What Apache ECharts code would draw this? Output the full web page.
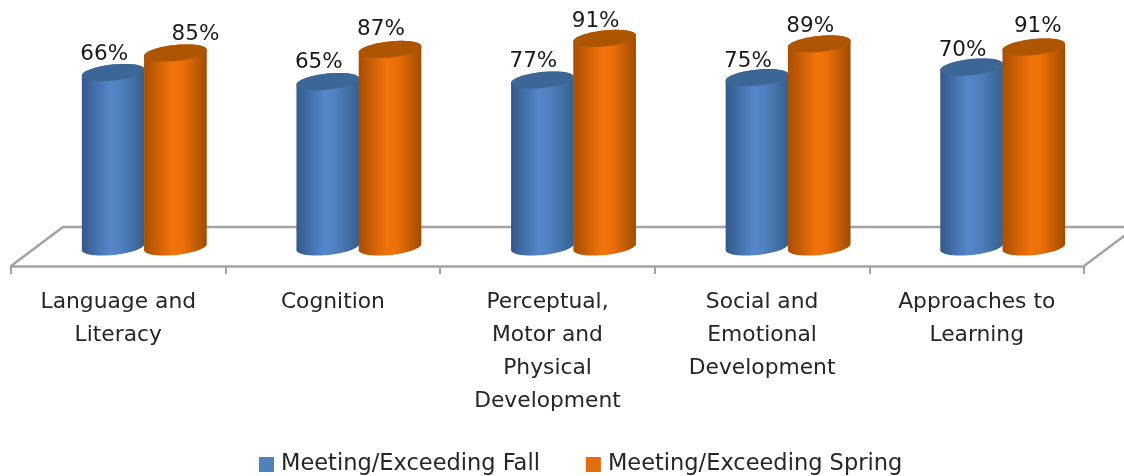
<!DOCTYPE html>
<html><head><meta charset="utf-8">
<style>html,body{margin:0;padding:0;background:#fff}#c{width:1124px;height:476px;filter:blur(0.6px)}</style>
<script src="https://cdn.jsdelivr.net/npm/echarts@6/dist/echarts.min.js"></script></head>
<body><div id="c"></div>
<script>
const categories = ['Language and\nLiteracy','Cognition','Perceptual,\nMotor and\nPhysical\nDevelopment','Social and\nEmotional\nDevelopment','Approaches to\nLearning'];
const seriesNames = ['Meeting/Exceeding Fall','Meeting/Exceeding Spring'];
// Heights as drawn in the picture
const fallHeights = [79.3, 75.2, 75.9, 77, 81.8];
const springHeights = [88.2, 89.8, 94.8, 92.3, 90.9];
// Percentages as printed above the columns
const fallLabels = ['66%','65%','77%','75%','70%'];
const springLabels = ['85%','87%','91%','89%','91%'];

const FONT = '"DejaVu Sans"';
const DEPTH_X = 52, DEPTH_Y = 39;
const RX = 31.5, RY = 8, TILT = -6 * Math.PI / 180;
const labelNudgeX = {fall:[0,0,0,0,0], spring:[29,0,0,0,13]};
const labelNudgeY = {fall:[2,1,1,4,3], spring:[1,0,3,2,-1]};

function ellipsePoint(cx, cy, t) {
  const x = RX * Math.cos(t), y = RY * Math.sin(t);
  return [cx + x * Math.cos(TILT) - y * Math.sin(TILT), cy + x * Math.sin(TILT) + y * Math.cos(TILT)];
}
function cylinder(offset, stops, topColor, key) {
  return function (params, api) {
    const i = api.value(0);
    const band = api.size([1, 0])[0];
    const base = api.coord([i, 0]);
    const top = api.coord([i, api.value(1)]);
    const cx = base[0] + DEPTH_X / 2 + offset * band;
    const by = base[1] - 19, ty = top[1] - 19;
    const outline = [], cap = [];
    for (let k = 0; k <= 40; k++) outline.push(ellipsePoint(cx, by, Math.PI - Math.PI * k / 40));
    for (let k = 0; k <= 40; k++) outline.push(ellipsePoint(cx, ty, -Math.PI * k / 40));
    for (let k = 0; k < 80; k++) cap.push(ellipsePoint(cx, ty, 2 * Math.PI * k / 80));
    const fill = new echarts.graphic.LinearGradient(0, 0, 1, 0, stops);
    return {type: 'group', children: [
      {type: 'polygon', shape: {points: outline}, style: {fill: fill}},
      {type: 'polygon', shape: {points: cap}, style: {fill: topColor}},
      {type: 'text', style: {text: api.value(2), x: cx - 9 + labelNudgeX[key][i], y: ty - 20 + labelNudgeY[key][i],
        align: 'center', verticalAlign: 'middle', font: '21.5px ' + FONT, fill: '#1a1a1a'}}
    ]};
  };
}
function floor(params, api) {
  const c = params.coordSys;
  const L = c.x, R = c.x + c.width, B = c.y + c.height;
  return {type: 'polyline', shape: {points: [[L, B], [L + DEPTH_X, B - DEPTH_Y], [R + DEPTH_X, B - DEPTH_Y], [R, B]]},
    style: {stroke: '#a3a3a3', lineWidth: 2.5, fill: null}};
}
const chart = echarts.init(document.getElementById('c'), null, {renderer: 'canvas'});
chart.setOption({
  animation: false,
  backgroundColor: '#fff',
  legend: {
    data: seriesNames, top: 448, left: 254, itemWidth: 15, itemHeight: 15, itemGap: 46,
    icon: 'rect', textStyle: {fontFamily: FONT, fontSize: 22.5, color: '#262626', padding: [0, 0, 0, 2]}
  },
  grid: {left: 11, right: 40, top: 46, bottom: 210, containLabel: false},
  xAxis: {
    type: 'category', data: categories, boundaryGap: true,
    axisLine: {lineStyle: {color: '#a3a3a3', width: 2.5}},
    axisTick: {show: true, length: 8, lineStyle: {color: '#a3a3a3', width: 2}},
    axisLabel: {interval: 0, margin: 20, lineHeight: 33, fontFamily: FONT, fontSize: 21.8, color: '#262626', verticalAlign: 'top'}
  },
  yAxis: {type: 'value', min: 0, max: 100, show: false},
  series: [
    {type: 'custom', name: '__floor', silent: true, clip: false, z: 1, renderItem: floor, data: [[0, 0]], encode: {x: 0, y: 1}},
    {type: 'custom', name: seriesNames[0], clip: false, z: 2, itemStyle: {color: '#4f81bd'},
      renderItem: cylinder(-0.145, [{offset: 0, color: '#32598a'}, {offset: .45, color: '#5687cc'}, {offset: .62, color: '#5080bf'}, {offset: 1, color: '#34608f'}], '#3c6696', 'fall'),
      data: fallHeights.map((v, i) => [i, v, fallLabels[i]]), encode: {x: 0, y: 1}},
    {type: 'custom', name: seriesNames[1], clip: false, z: 3, itemStyle: {color: '#e46c0a'},
      renderItem: cylinder(0.145, [{offset: 0, color: '#a94e00'}, {offset: .45, color: '#f2740a'}, {offset: .62, color: '#ec6f08'}, {offset: 1, color: '#a04c00'}], '#ad5500', 'spring'),
      data: springHeights.map((v, i) => [i, v, springLabels[i]]), encode: {x: 0, y: 1}}
  ]
});
</script></body></html>
